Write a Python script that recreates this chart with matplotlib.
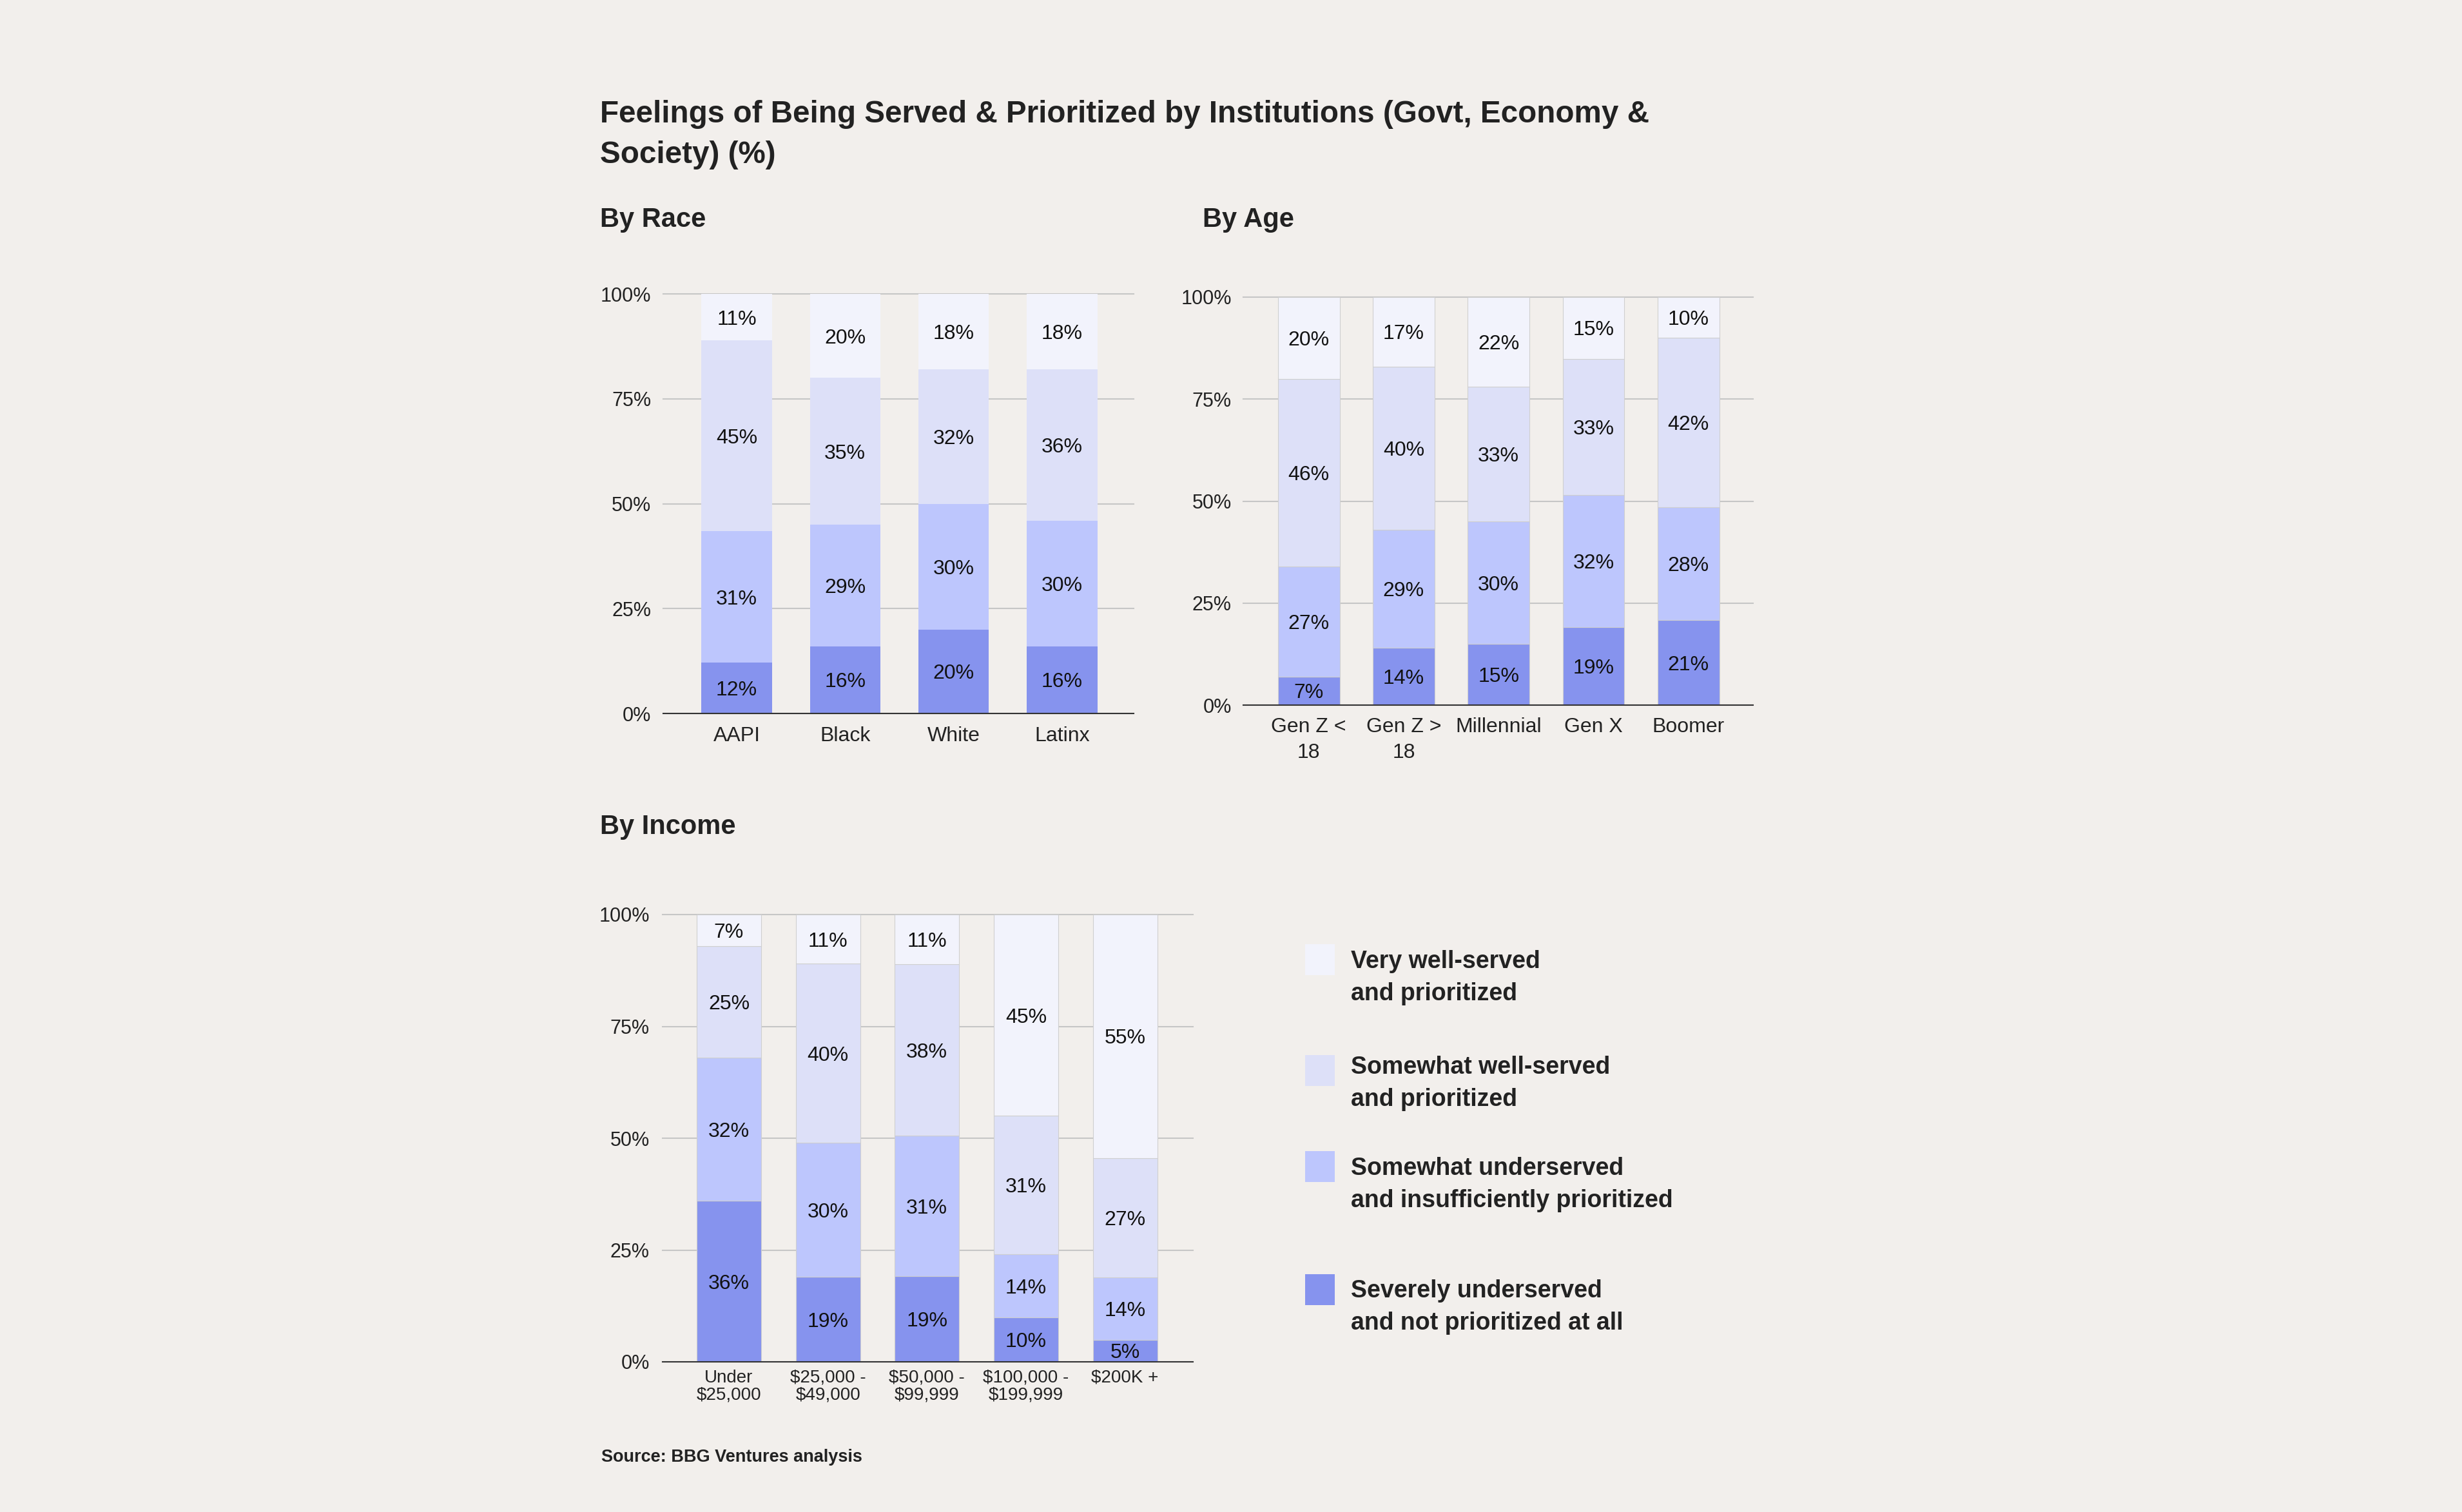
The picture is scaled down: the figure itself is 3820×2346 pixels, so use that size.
import numpy as np
import matplotlib
matplotlib.use("Agg")
import matplotlib.pyplot as plt
from matplotlib.patches import Rectangle
from matplotlib import font_manager

plt.rcParams['font.family'] = ['Liberation Sans', 'DejaVu Sans']

# ---- data (bottom segment first) ----
race_labels = ['AAPI', 'Black', 'White', 'Latinx']
race_severe = [12, 16, 20, 16]
race_some_under = [31, 29, 30, 30]
race_some_well = [45, 35, 32, 36]
race_very_well = [11, 20, 18, 18]

age_labels = ['Gen Z <\n18', 'Gen Z >\n18', 'Millennial', 'Gen X', 'Boomer']
age_severe = [7, 14, 15, 19, 21]
age_some_under = [27, 29, 30, 32, 28]
age_some_well = [46, 40, 33, 33, 42]
age_very_well = [20, 17, 22, 15, 10]

income_labels = ['Under\n$25,000', '$25,000 -\n$49,000', '$50,000 -\n$99,999',
                 '$100,000 -\n$199,999', '$200K +']
income_severe = [36, 19, 19, 10, 5]
income_some_under = [32, 30, 31, 14, 14]
income_some_well = [25, 40, 38, 31, 27]
income_very_well = [7, 11, 11, 45, 55]

series_names = ['Severely underserved\nand not prioritized at all',
                'Somewhat underserved\nand insufficiently prioritized',
                'Somewhat well-served\nand prioritized',
                'Very well-served\nand prioritized']
y_ticks = [0, 25, 50, 75, 100]

BG = '#F2EFEC'
COLORS = ['#8693EE', '#BDC6FD', '#DDE0F8', '#F2F3FC']
TXT = '#222222'
W, H = 3820, 2346


def box(x0, y0, x1, y1):
    # pixel box (top-left origin) -> figure rect
    return [x0 / W, 1 - y1 / H, (x1 - x0) / W, (y1 - y0) / H]


def draw_stacked(ax, labels, series, xlim, edge, ytick_pad, cat_pad, cat_size, cat_ls,
                 val_size=23):
    x = np.arange(len(labels))
    data = np.array(series, dtype=float)
    shares = data / data.sum(axis=0) * 100
    bottom = np.zeros(len(labels))
    for vals, share, color in zip(data, shares, COLORS):
        ax.bar(x, share, bottom=bottom, width=0.65, color=color,
               edgecolor=edge if edge else color, linewidth=0.8 if edge else 0, zorder=2)
        for xi, v, s, b in zip(x, vals, share, bottom):
            ax.text(xi, b + s / 2, f'{v:.0f}%', ha='center', va='center_baseline',
                    fontsize=val_size, color='#111111', zorder=3)
        bottom += share

    ax.set_xlim(*xlim)
    ax.set_ylim(0, 100)
    ax.set_facecolor(BG)
    ax.set_yticks(y_ticks)
    ax.set_yticklabels([f'{t}%' for t in y_ticks])
    ax.set_xticks(x)
    ax.set_xticklabels(labels)
    for t in ax.get_xticklabels():
        t.set_linespacing(cat_ls)
    ax.yaxis.grid(True, color='#C6C6C6', linewidth=1.5)
    for gl in ax.get_ygridlines():
        gl.set_clip_on(False)
    ax.set_axisbelow(True)
    ax.tick_params(axis='both', length=0, colors=TXT)
    ax.tick_params(axis='y', labelsize=22, pad=ytick_pad)
    ax.tick_params(axis='x', labelsize=cat_size, pad=cat_pad)
    for sp in ['left', 'right', 'top']:
        ax.spines[sp].set_visible(False)
    ax.spines['bottom'].set_color('#333333')
    ax.spines['bottom'].set_linewidth(1.5)


fig = plt.figure(figsize=(W / 100, H / 100), dpi=100, facecolor=BG)

ax_race = fig.add_axes(box(1029, 456, 1759, 1107))
draw_stacked(ax_race, race_labels,
             [race_severe, race_some_under, race_some_well, race_very_well],
             (-0.677, 3.66), None, 13.5, 14.5, 23, 1.2)

ax_age = fig.add_axes(box(1929, 461, 2720, 1094))
draw_stacked(ax_age, age_labels,
             [age_severe, age_some_under, age_some_well, age_very_well],
             (-0.69, 4.68), '#CFCFCF', 13, 14, 23, 1.4)

ax_inc = fig.add_axes(box(1028, 1419, 1851, 2113))
draw_stacked(ax_inc, income_labels,
             [income_severe, income_some_under, income_some_well, income_very_well],
             (-0.67, 4.686), '#CFCFCF', 14.4, 8.5, 20, 1.02)

# titles (multi-line text: va='baseline' anchors the last line)
fig.text(931 / W, 1 - 253 / H,
         'Feelings of Being Served & Prioritized by Institutions (Govt, Economy &\nSociety) (%)',
         fontsize=34.3, fontweight='bold', color=TXT, va='baseline', linespacing=1.51)
fig.text(931 / W, 1 - 352 / H, 'By Race', fontsize=30, fontweight='bold', color=TXT, va='baseline')
fig.text(1866 / W, 1 - 352 / H, 'By Age', fontsize=30, fontweight='bold', color=TXT, va='baseline')
fig.text(931 / W, 1 - 1294 / H, 'By Income', fontsize=30, fontweight='bold', color=TXT, va='baseline')

# legend (top item = lightest)
sq_tops = [1977, 1786, 1637, 1465]
txt_base = [2063, 1873, 1716, 1552]
for name, color, top, base in zip(series_names, COLORS, sq_tops, txt_base):
    fig.add_artist(Rectangle((2025 / W, 1 - (top + 48) / H), 46 / W, 48 / H,
                             transform=fig.transFigure, facecolor=color, edgecolor='none'))
    fig.text(2096 / W, 1 - base / H, name, fontsize=27, fontweight='bold', color=TXT,
             va='baseline', linespacing=1.5)

# source
names = {f.name for f in font_manager.fontManager.ttflist}
src_family = 'Liberation Sans Narrow' if 'Liberation Sans Narrow' in names else 'Liberation Sans'
fig.text(933 / W, 1 - 2268 / H, 'Source: BBG Ventures analysis',
         fontsize=24 if src_family.endswith('Narrow') else 19.5,
         fontweight='bold', color=TXT, va='baseline', family=src_family)

fig.savefig('out.png', dpi=100, facecolor=BG)
